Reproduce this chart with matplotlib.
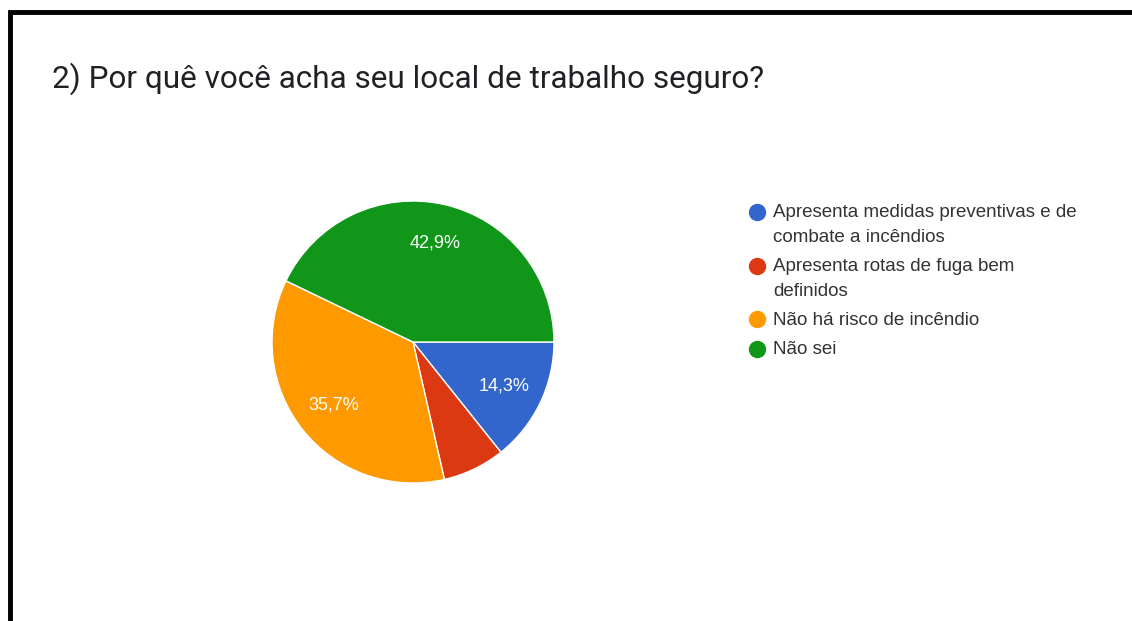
import matplotlib.pyplot as plt
from matplotlib.lines import Line2D

# Respostas da pergunta 2 (total de 14 respostas)
CATEGORIAS = [
    "Apresenta medidas preventivas e de\ncombate a incêndios",
    "Apresenta rotas de fuga bem\ndefinidos",
    "Não há risco de incêndio",
    "Não sei",
]
RESPOSTAS = [2, 1, 5, 6]
CORES = ["#3366cc", "#dc3912", "#ff9900", "#109618"]
TITULO = "2) Por quê você acha seu local de trabalho seguro?"

LARGURA, ALTURA = 1132, 621


def _px(x, y):
    """Converte pixels (origem no topo) para fração da figura."""
    return x / LARGURA, 1 - y / ALTURA


def _rotulo_pct(pct):
    # fatias pequenas ficam sem rótulo
    if pct < 10:
        return ""
    return f"{pct:.1f}%".replace(".", ",")


fig = plt.figure(figsize=(LARGURA / 100, ALTURA / 100), dpi=100)
fig.patch.set_facecolor("white")

# moldura preta (topo e lado esquerdo)
fig.add_artist(Line2D([8 / LARGURA, 1], [1 - 12 / ALTURA] * 2, color="black", lw=3.5,
                      solid_capstyle="butt"))
fig.add_artist(Line2D([9.5 / LARGURA] * 2, [1 - 10 / ALTURA, 0], color="black", lw=3.5,
                      solid_capstyle="butt"))

# título
tx, ty = _px(52, 88)
fig.text(tx, ty, TITULO, fontsize=22.7, family="Roboto", color="#202124", va="baseline")

# pizza: centro (413, 342), raio 141 px
cx, cy, r = 413, 342, 141
esq, base = _px(cx - r, cy + r)
ax = fig.add_axes([esq, base, 2 * r / LARGURA, 2 * r / ALTURA])
wedges, _, autotexts = ax.pie(
    RESPOSTAS,
    colors=CORES,
    startangle=0,
    counterclock=False,
    autopct=_rotulo_pct,
    pctdistance=0.72,
    wedgeprops=dict(edgecolor="white", linewidth=1),
    textprops=dict(color="white", fontsize=13, family="Liberation Sans"),
)
ax.set_xlim(-1, 1)
ax.set_ylim(-1, 1)
ax.set_aspect("auto")
ax.axis("off")

# legenda montada à mão: marcador alinhado com a primeira linha do rótulo
y = 217
for cor, rotulo in zip(CORES, CATEGORIAS):
    mx, my = _px(757, y - 5.5)
    fig.add_artist(Line2D([mx], [my], marker="o", markersize=11.5, color=cor, lw=0))
    for i, linha in enumerate(rotulo.split("\n")):
        lx, ly = _px(773, y + 25 * i)
        fig.text(lx, ly, linha, fontsize=13.5, family="Liberation Sans", color="#333333",
                 va="baseline")
    y += 25 * rotulo.count("\n") + 29

fig.savefig("out.png", dpi=100, facecolor="white")
